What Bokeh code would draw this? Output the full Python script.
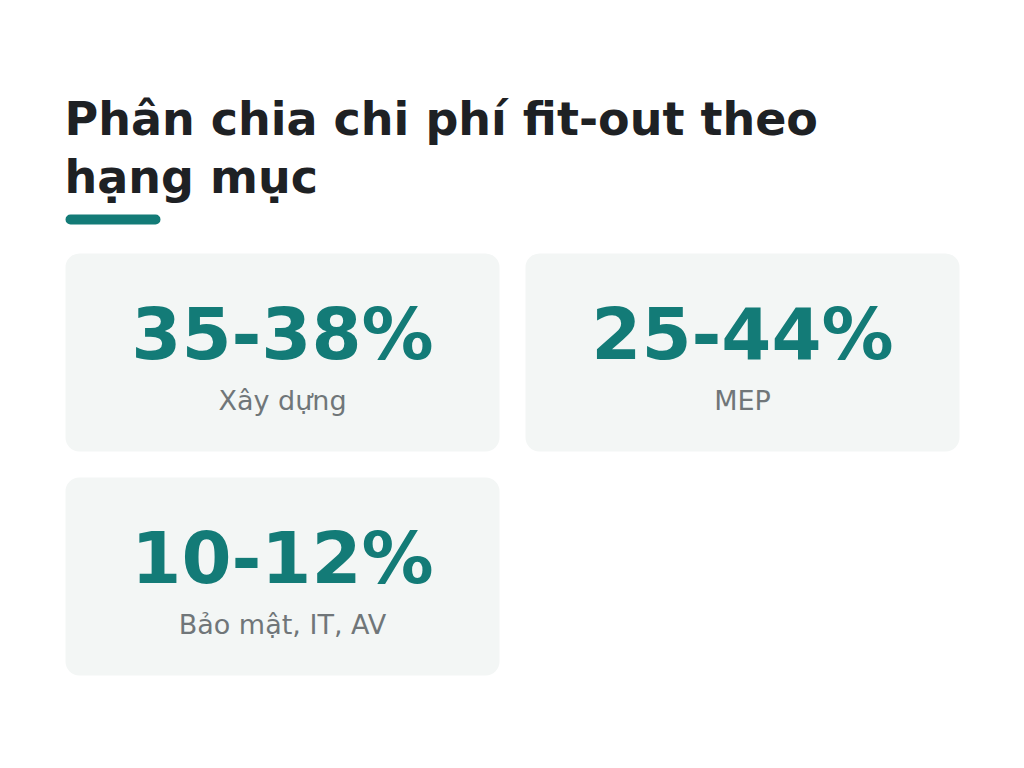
from bokeh.embed import file_html
from bokeh.resources import INLINE
from bokeh.plotting import figure
from bokeh.core.properties import value

title_lines = ["Phân chia chi phí fit-out theo", "hạng mục"]
ranges = ["35-38%", "25-44%", "10-12%"]
labels = ["Xây dựng", "MEP", "Bảo mật, IT, AV"]

TEAL = "#137b77"
FONT = value("DejaVu Sans")

W, H = 1024, 768
p = figure(width=W, height=H, x_range=(0, W), y_range=(H, 0),
           tools="", toolbar_location=None, output_backend="svg",
           min_border=0, background_fill_color="white")
p.axis.visible = False
p.grid.visible = False
p.outline_line_color = None


def base(y, size):
    # svg text sits lower than the requested baseline by ~0.39 em
    return y - 0.39 * size


# title
p.text(x=[64, 64], y=[base(136, 46), base(194, 46)], text=title_lines,
       text_font=FONT, text_font_size="46px", text_font_style="bold",
       text_color="#1e2124", text_baseline="alphabetic")
p.quad(left=[65], right=[160], top=[214], bottom=[224], fill_color=TEAL,
       line_color=None, border_radius=5)

# cards in a 2-column grid
card_w, card_h, gap = 434, 198, 26
lefts, tops = [], []
for i in range(len(ranges)):
    col, row = i % 2, i // 2
    lefts.append(65 + col * (card_w + gap))
    tops.append(253 + row * (card_h + gap))
rights = [l + card_w for l in lefts]
bottoms = [t + card_h for t in tops]
centers = [l + card_w / 2 for l in lefts]

p.quad(left=lefts, right=rights, top=tops, bottom=bottoms,
       fill_color="#f3f6f5", line_color=None, border_radius=14)
p.text(x=centers, y=[base(t + 109, 72) for t in tops], text=ranges,
       text_font=FONT, text_font_size="72px", text_font_style="bold",
       text_color=TEAL, text_align="center", text_baseline="alphabetic")
p.text(x=centers, y=[base(t + 158, 27) for t in tops], text=labels,
       text_font=FONT, text_font_size="27px", text_color="#707679",
       text_align="center", text_baseline="alphabetic")

open("out.html", "w").write(file_html(p, INLINE))
